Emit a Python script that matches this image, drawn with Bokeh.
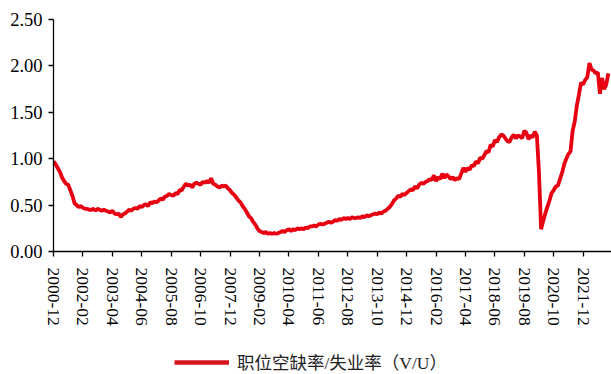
from bokeh.plotting import figure
from bokeh.models import (FixedTicker, Legend, LegendItem, ColumnDataSource, Range1d,
                          NumeralTickFormatter)
from bokeh.layouts import column
from bokeh.embed import file_html
from bokeh.resources import INLINE

# ---- data (monthly V/U ratio, 2000-12 .. 2022-12) ----
vu_2000 = [0.97]
vu_2001 = [0.94, 0.90, 0.86, 0.80, 0.76, 0.73, 0.72, 0.66, 0.60, 0.52, 0.50, 0.48]
vu_2002 = [0.49, 0.47, 0.46, 0.46, 0.45, 0.45, 0.46, 0.44, 0.46, 0.45, 0.44, 0.45]
vu_2003 = [0.44, 0.43, 0.42, 0.44, 0.41, 0.40, 0.41, 0.37, 0.40, 0.41, 0.43, 0.45]
vu_2004 = [0.44, 0.46, 0.47, 0.46, 0.49, 0.48, 0.50, 0.51, 0.49, 0.53, 0.52, 0.54]
vu_2005 = [0.53, 0.55, 0.57, 0.56, 0.59, 0.60, 0.62, 0.61, 0.60, 0.63, 0.62, 0.66]
vu_2006 = [0.66, 0.70, 0.73, 0.71, 0.72, 0.69, 0.73, 0.74, 0.73, 0.72, 0.75, 0.74]
vu_2007 = [0.76, 0.74, 0.79, 0.73, 0.72, 0.70, 0.69, 0.71, 0.70, 0.71, 0.68, 0.66]
vu_2008 = [0.63, 0.61, 0.58, 0.55, 0.53, 0.49, 0.46, 0.42, 0.38, 0.36, 0.32, 0.29]
vu_2009 = [0.25, 0.22, 0.21, 0.20, 0.21, 0.19, 0.20, 0.19, 0.20, 0.19, 0.20, 0.21]
vu_2010 = [0.22, 0.21, 0.23, 0.24, 0.22, 0.24, 0.23, 0.25, 0.24, 0.25, 0.24, 0.26]
vu_2011 = [0.25, 0.27, 0.27, 0.28, 0.27, 0.29, 0.30, 0.29, 0.30, 0.31, 0.32, 0.31]
vu_2012 = [0.32, 0.34, 0.33, 0.35, 0.34, 0.36, 0.35, 0.36, 0.35, 0.37, 0.36, 0.36]
vu_2013 = [0.37, 0.36, 0.38, 0.37, 0.39, 0.38, 0.39, 0.40, 0.41, 0.40, 0.42, 0.41]
vu_2014 = [0.43, 0.44, 0.46, 0.48, 0.51, 0.55, 0.57, 0.60, 0.59, 0.62, 0.61, 0.63]
vu_2015 = [0.65, 0.67, 0.66, 0.70, 0.68, 0.72, 0.74, 0.73, 0.75, 0.76, 0.78, 0.77]
vu_2016 = [0.82, 0.76, 0.80, 0.78, 0.84, 0.79, 0.83, 0.81, 0.78, 0.80, 0.77, 0.79]
vu_2017 = [0.78, 0.84, 0.90, 0.86, 0.90, 0.88, 0.93, 0.92, 0.97, 0.95, 1.01, 1.00]
vu_2018 = [1.04, 1.08, 1.07, 1.15, 1.13, 1.20, 1.18, 1.23, 1.26, 1.25, 1.22, 1.19]
vu_2019 = [1.18, 1.23, 1.26, 1.22, 1.25, 1.24, 1.22, 1.30, 1.28, 1.21, 1.25, 1.23]
vu_2020 = [1.29, 1.25, 0.85, 0.24, 0.33, 0.41, 0.48, 0.55, 0.63, 0.66, 0.70, 0.71]
vu_2021 = [0.78, 0.85, 0.94, 1.00, 1.05, 1.08, 1.30, 1.40, 1.57, 1.69, 1.82, 1.80]
vu_2022 = [1.85, 1.88, 2.03, 1.96, 1.95, 1.92, 1.93, 1.70, 1.87, 1.75, 1.80, 1.92]

tick_labels = ["2000-12", "2002-02", "2003-04", "2004-06", "2005-08", "2006-10",
               "2007-12", "2009-02", "2010-04", "2011-06", "2012-08", "2013-10",
               "2014-12", "2016-02", "2017-04", "2018-06", "2019-08", "2020-10",
               "2021-12"]
y_ticks = [0.0, 0.5, 1.0, 1.5, 2.0, 2.5]
series_name = "职位空缺率/失业率（V/U）"

vu = (vu_2000 + vu_2001 + vu_2002 + vu_2003 + vu_2004 + vu_2005 + vu_2006 + vu_2007 +
      vu_2008 + vu_2009 + vu_2010 + vu_2011 + vu_2012 + vu_2013 + vu_2014 + vu_2015 +
      vu_2016 + vu_2017 + vu_2018 + vu_2019 + vu_2020 + vu_2021 + vu_2022)


def month_label(i):
    t = 11 + i  # 2000-12 is month index 0
    return f"{2000 + t // 12}-{t % 12 + 1:02d}"


idx = list(range(len(vu)))
labels = [month_label(i) for i in idx]
tick_pos = [i for i, l in zip(idx, labels) if l in tick_labels]

src = ColumnDataSource(dict(x=idx, y=vu, label=labels))

FONT = "'Liberation Serif', 'Times New Roman', 'Noto Sans CJK SC', serif"
RED = "#e60012"

# ---- main chart ----
p = figure(frame_width=558, frame_height=232, output_backend="svg",
           toolbar_location=None, x_range=Range1d(0, 265.5), y_range=Range1d(0, 2.5),
           min_border_left=53, min_border_right=0, min_border_top=19,
           min_border_bottom=90)
p.outline_line_color = None
p.background_fill_color = "white"
p.border_fill_color = "white"
p.grid.visible = False

p.line("x", "y", source=src, line_color=RED, line_width=3.8)

p.xaxis.ticker = FixedTicker(ticks=tick_pos)
p.xaxis.major_label_overrides = {i: l for i, l in zip(idx, labels) if i in tick_pos}
p.xaxis.major_label_orientation = "vertical"
p.yaxis.ticker = FixedTicker(ticks=y_ticks)
p.yaxis.formatter = NumeralTickFormatter(format="0.00")
for ax in (p.xaxis, p.yaxis):
    ax.axis_line_color = "black"
    ax.axis_line_width = 1.3
    ax.major_tick_line_color = "black"
    ax.major_tick_line_width = 1.3
    ax.major_tick_in = 0
    ax.major_tick_out = 5
    ax.minor_tick_line_color = None
    ax.major_label_text_font = FONT
    ax.major_label_text_color = "black"
p.xaxis.major_label_text_font_size = "17.5px"
p.yaxis.major_label_text_font_size = "18.5px"
p.xaxis.major_label_standoff = 11
p.yaxis.major_label_standoff = 6

# ---- legend strip below the chart ----
lg = figure(width=611, height=33, output_backend="svg", toolbar_location=None,
            x_range=Range1d(-10, -9), y_range=Range1d(-10, -9),
            x_axis_type=None, y_axis_type=None,
            min_border_left=0, min_border_right=0, min_border_top=0, min_border_bottom=0)
lg.outline_line_color = None
lg.grid.visible = False
lr = lg.line("x", "y", source=src, line_color="#d7141e", line_width=4.5)
legend = Legend(items=[LegendItem(label=series_name, renderers=[lr])],
                location=(121, 0), orientation="horizontal",
                glyph_width=55, glyph_height=16, label_standoff=8,
                label_text_font=FONT, label_text_font_size="17.5px",
                label_text_color="#222222",
                border_line_color=None, background_fill_alpha=0,
                padding=4, margin=0)
lg.add_layout(legend, "center")

layout = column(p, lg, spacing=0)
open("out.html", "w").write(file_html(layout, INLINE))
